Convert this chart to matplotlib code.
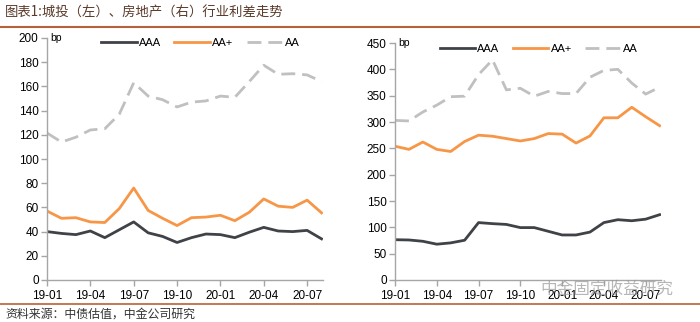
import matplotlib
matplotlib.use("Agg")
import matplotlib.pyplot as plt

plt.rcParams['font.family'] = ['Liberation Sans', 'Noto Sans CJK SC', 'DejaVu Sans']

months = ["19-01", "19-02", "19-03", "19-04", "19-05", "19-06", "19-07", "19-08", "19-09", "19-10",
          "19-11", "19-12", "20-01", "20-02", "20-03", "20-04", "20-05", "20-06", "20-07", "20-08"]
tick_labels = ["19-01", "19-04", "19-07", "19-10", "20-01", "20-04", "20-07"]

# 城投 (left)
ct_aaa = [40, 38.5, 37.5, 40.5, 35, 41.5, 48, 39, 36, 31, 35, 38, 37.5, 35, 39.5, 43.5, 40.5, 40, 41, 34]
ct_aap = [57, 51, 51.5, 48, 47.5, 59, 76, 57.5, 51, 45, 51.5, 52, 53.5, 49, 56, 67, 61, 60, 66, 55.5]
ct_aa = [121.5, 114, 118, 124, 125, 137, 163, 152, 149, 143, 147, 148, 152, 151, 164, 177.5, 170, 170.5, 169.5, 164]

# 房地产 (right)
re_aaa = [76.5, 76, 73.5, 68, 70.5, 75.5, 109, 107, 105.5, 99.5, 99.5, 92.5, 85.5, 85.5, 91, 109, 114.5, 112.5, 115.5, 124]
re_aap = [254, 248, 262, 248, 244, 263, 275, 273, 268.5, 264, 268.5, 278, 277, 260, 273.5, 308, 308, 328, 310, 293]
re_aa = [303, 302, 319, 332, 348, 349, 390, 418, 361, 364, 349, 358, 354, 354, 385, 398, 400, 374, 353, 366]

c_aaa = "#3f4247"
c_aap = "#f79646"
c_aa = "#c0c0c0"
c_axis = "#a6a6a6"
c_brown = "#b5623a"

W, H = 700, 322
fig = plt.figure(figsize=(7, 3.22), dpi=100)

def make_ax(l, t, r, b, aaa, aap, aa, ymax, ystep, legx):
    ax = fig.add_axes([l / W, 1 - b / H, (r - l) / W, (b - t) / H])
    x = list(range(len(months)))
    ax.plot(x, aaa, color=c_aaa, lw=2.0, label="AAA")
    ax.plot(x, aap, color=c_aap, lw=2.0, label="AA+")
    ax.plot(x, aa, color=c_aa, lw=2.0, ls=(0, (5, 2.5)), label="AA")
    ax.set_xlim(0, 19.1)
    ax.set_ylim(0, ymax)
    ax.set_yticks(range(0, ymax + 1, ystep))
    ax.set_xticks(range(0, 19, 3))
    ax.set_xticklabels(tick_labels)
    for s in ["top", "right"]:
        ax.spines[s].set_visible(False)
    for s in ["left", "bottom"]:
        ax.spines[s].set_color(c_axis)
        ax.spines[s].set_linewidth(1.0)
    ax.tick_params(axis="both", direction="out", length=4, width=1, color=c_axis,
                   labelsize=8.5, labelcolor="#000000")
    ax.tick_params(axis="x", pad=3)
    ax.tick_params(axis="y", pad=2)
    ax.text(0.012, 1.0, "bp", transform=ax.transAxes, fontsize=7.5, va="center", ha="left")
    ax.legend(loc="upper left", bbox_to_anchor=(legx, 1.04), ncol=3, frameon=False,
              fontsize=8, handlelength=3.2, columnspacing=1.2, handletextpad=0.2)
    return ax

make_ax(47, 38, 323, 280, ct_aaa, ct_aap, ct_aa, 200, 20, 0.16)
make_ax(395, 43, 661, 280, re_aaa, re_aap, re_aa, 450, 50, 0.13)

fig.text(5 / W, 1 - 13 / H, "图表1:城投（左）、房地产（右）行业利差走势", fontsize=9.6,
         color="#5b3a29", va="center", ha="left", family=["Noto Sans CJK SC", "DejaVu Sans"])
fig.add_artist(plt.Line2D([0, 1], [1 - 27 / H, 1 - 27 / H], color=c_brown, lw=1.5))
fig.add_artist(plt.Line2D([0, 1], [1 - 304 / H, 1 - 304 / H], color=c_brown, lw=1.2))
fig.text(5 / W, 1 - 314 / H, "资料来源：中债估值，中金公司研究", fontsize=8.6,
         color="#333333", va="center", ha="left", family=["Noto Sans CJK SC", "DejaVu Sans"])
# watermark sits over the x tick labels in the reference
fig.text(540 / W, 1 - 289 / H, "中金固定收益研究", fontsize=12, color="#999999", alpha=0.7,
         va="center", ha="left", family=["Noto Sans CJK SC", "DejaVu Sans"])

fig.savefig("out.png", dpi=100)
